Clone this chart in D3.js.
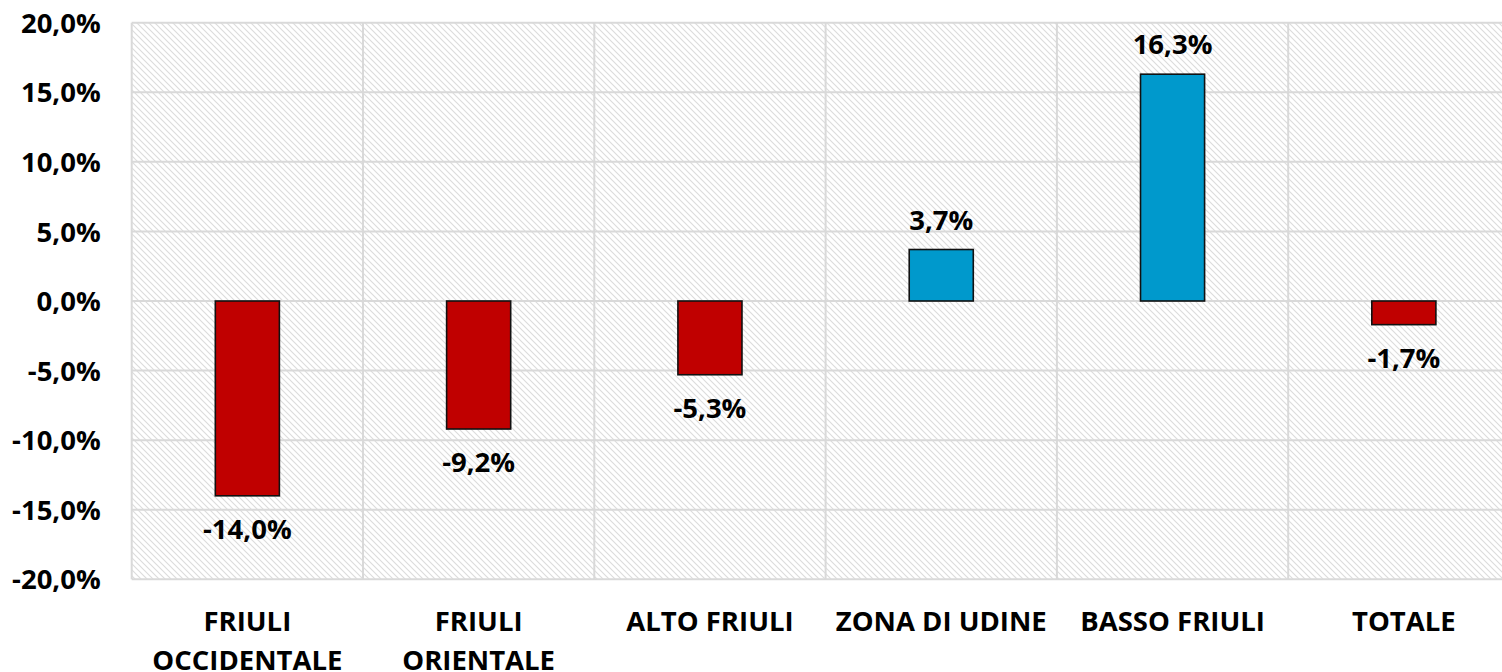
<!DOCTYPE html>
<html>
<head>
<meta charset="utf-8">
<script src="https://cdn.jsdelivr.net/npm/d3@7"></script>
<style>
  html, body { margin: 0; padding: 0; background: #fff; }
  svg { display: block; }
  text { font-family: "Open Sans", "Liberation Sans", sans-serif; font-weight: 700; fill: #000; }
</style>
</head>
<body>
<svg id="chart" width="1502" height="672"></svg>
<script>
const categories = ["FRIULI\nOCCIDENTALE", "FRIULI\nORIENTALE", "ALTO FRIULI", "ZONA DI UDINE", "BASSO FRIULI", "TOTALE"];
const values = [-0.140, -0.092, -0.053, 0.037, 0.163, -0.017];
const yTicks = [-0.20, -0.15, -0.10, -0.05, 0.00, 0.05, 0.10, 0.15, 0.20];

const W = 1502, H = 672;
const plot = { left: 131.7, top: 22.7, right: 1519.5, bottom: 579.3 };
const FS = 27.5;

const svg = d3.select("#chart");
const locale = d3.formatLocale({ decimal: ",", thousands: ".", grouping: [3], currency: ["", "€"], minus: "-" });
const fmt = locale.format(".1%");

const x = d3.scaleBand().domain(categories).range([plot.left, plot.right]).padding(0);
const y = d3.scaleLinear().domain([-0.2, 0.2]).range([plot.bottom, plot.top]);
const barFrac = 0.277;

// hatch pattern
const defs = svg.append("defs");
const pat = defs.append("pattern").attr("id", "hatch").attr("patternUnits", "userSpaceOnUse")
  .attr("width", 6).attr("height", 6);
pat.append("rect").attr("width", 6).attr("height", 6).attr("fill", "#fff");
pat.append("path").attr("d", "M-1,-1 L7,7 M-1,5 L1,7 M5,-1 L7,1")
  .attr("stroke", "#dcdcdc").attr("stroke-width", 1.1).attr("fill", "none");

svg.append("rect").attr("x", plot.left).attr("y", plot.top)
  .attr("width", plot.right - plot.left).attr("height", plot.bottom - plot.top)
  .attr("fill", "url(#hatch)");

// gridlines
const grid = svg.append("g").attr("stroke", "#d9d9d9").attr("stroke-width", 2);
grid.selectAll("line.h").data(yTicks).join("line").attr("class", "h")
  .attr("x1", plot.left).attr("x2", plot.right)
  .attr("y1", d => y(d)).attr("y2", d => y(d));
const vlines = categories.map(c => x(c)).concat([x(categories[categories.length - 1]) + x.bandwidth()]);
grid.selectAll("line.v").data(vlines).join("line").attr("class", "v")
  .attr("x1", d => d).attr("x2", d => d)
  .attr("y1", plot.top).attr("y2", plot.bottom);

// y axis
const yAxis = d3.axisLeft(y).tickValues(yTicks).tickSize(0).tickPadding(0).tickFormat(fmt);
const ya = svg.append("g").attr("transform", `translate(${plot.left - 31},0)`).call(yAxis);
ya.select(".domain").remove();
ya.selectAll("text").attr("font-size", FS).attr("font-family", null).attr("dy", "0.35em");

// bars
const data = categories.map((c, i) => ({ c, v: values[i] }));
const bw = x.bandwidth() * barFrac;
svg.append("g").selectAll("rect").data(data).join("rect")
  .attr("x", d => x(d.c) + (x.bandwidth() - bw) / 2)
  .attr("width", bw)
  .attr("y", d => y(Math.max(0, d.v)))
  .attr("height", d => Math.abs(y(d.v) - y(0)))
  .attr("fill", d => d.v >= 0 ? "#0099cc" : "#c00000")
  .attr("stroke", "#111").attr("stroke-width", 1.6);

// data labels
svg.append("g").selectAll("text").data(data).join("text")
  .attr("x", d => x(d.c) + x.bandwidth() / 2)
  .attr("y", d => d.v >= 0 ? y(d.v) - 20 : y(d.v) + 43)
  .attr("text-anchor", "middle").attr("font-size", FS)
  .text(d => fmt(d.v));

// category labels
const xl = svg.append("g").selectAll("text").data(categories).join("text")
  .attr("x", d => x(d) + x.bandwidth() / 2)
  .attr("y", 631)
  .attr("text-anchor", "middle").attr("font-size", FS);
xl.each(function(d) {
  const lines = d.split("\n");
  const t = d3.select(this);
  lines.forEach((ln, i) => {
    t.append("tspan").attr("x", x(d) + x.bandwidth() / 2).attr("dy", i === 0 ? 0 : 39).text(ln);
  });
});
</script>
</body>
</html>
